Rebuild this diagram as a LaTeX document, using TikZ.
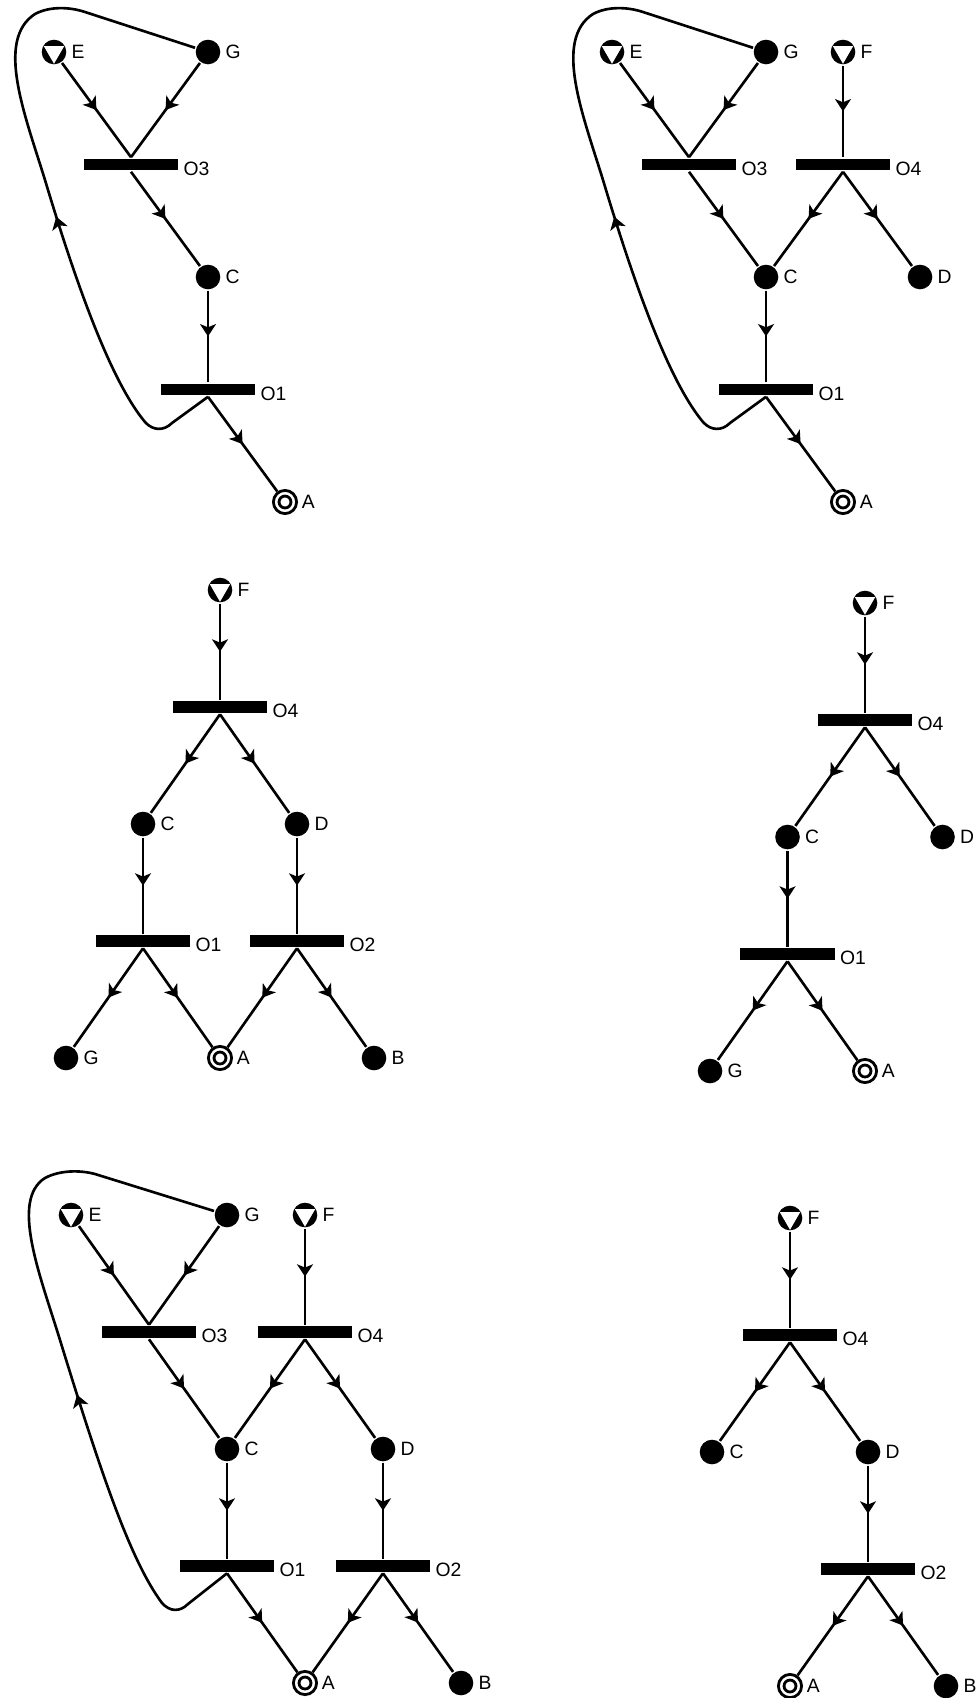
\documentclass[tikz,border=0pt]{standalone}
\usepackage{fontspec}
\setmainfont{Liberation Sans}
\usetikzlibrary{arrows.meta,decorations.markings}

\tikzset{
  place/.style={circle,fill=black,inner sep=0pt,minimum size=14pt},
  source/.style={place,path picture={
      \fill[white] ([shift={(150:6.7pt)}]path picture bounding box.center)
        -- ([shift={(30:6.7pt)}]path picture bounding box.center)
        -- ([shift={(-90:6.7pt)}]path picture bounding box.center) -- cycle;}},
  sink/.style={circle,draw,line width=1.6pt,inner sep=0pt,minimum size=13.2pt,
    path picture={\draw[line width=1.6pt] (path picture bounding box.center) circle (3.4pt);}},
  bar/.style={rectangle,fill=black,inner sep=0pt,minimum width=53.9pt,minimum height=6.8pt},
  every label/.style={inner sep=1.5pt,font=\fontsize{11}{13}\selectfont},
  flow/.style={postaction={decorate},decoration={markings,
      mark=at position #1 with {\arrow{Stealth[length=7pt,width=9pt,inset=1.8pt]}}}},
  flow/.default=0.5
}

\begin{document}
\begin{tikzpicture}[x=0.02cm,y=-0.02cm,line width=1.5pt]
  \useasboundingbox (0,0) rectangle (975,1698);

  % net 1
  \node[source,label=east:E] (p1E) at (54,52) {};
  \node[place,label=east:G] (p1G) at (208,52) {};
  \node[bar,label={[yshift=-2.3pt]east:O3}] (p1O3) at (131,164.5) {};
  \node[place,label=east:C] (p1C) at (208,277) {};
  \node[bar,label={[yshift=-2.3pt]east:O1}] (p1O1) at (208,389.5) {};
  \node[sink,label=east:A] (p1A) at (285,502) {};

  \draw[flow] (p1E) -- (p1O3.north);
  \draw[flow] (p1G) -- (p1O3.north);
  \draw[flow] (p1O3.south) -- (p1C);
  \draw[flow] (p1C) -- (p1O1.north);
  \draw[flow] (p1O1.south) -- (p1A);
  \draw[flow=0.44] (p1O1.south) -- (172,423) .. controls (164,431) and (153,431) .. (145,422)
    .. controls (110,380) and (75,280) .. (45,180) .. controls (25,115) and (-5,40) .. (35,14)
    .. controls (50,6) and (70,7) .. (85,12) -- (p1G);

  % net 2
  \node[source,label=east:E] (p2E) at (612,52) {};
  \node[place,label=east:G] (p2G) at (766,52) {};
  \node[source,label=east:F] (p2F) at (843,52) {};
  \node[bar,label={[yshift=-2.3pt]east:O3}] (p2O3) at (689,164.5) {};
  \node[bar,label={[yshift=-2.3pt]east:O4}] (p2O4) at (843,164.5) {};
  \node[place,label=east:C] (p2C) at (766,277) {};
  \node[place,label=east:D] (p2D) at (920,277) {};
  \node[bar,label={[yshift=-2.3pt]east:O1}] (p2O1) at (766,389.5) {};
  \node[sink,label=east:A] (p2A) at (843,502) {};

  \draw[flow] (p2E) -- (p2O3.north);
  \draw[flow] (p2G) -- (p2O3.north);
  \draw[flow] (p2F) -- (p2O4.north);
  \draw[flow] (p2O3.south) -- (p2C);
  \draw[flow] (p2O4.south) -- (p2C);
  \draw[flow] (p2O4.south) -- (p2D);
  \draw[flow] (p2C) -- (p2O1.north);
  \draw[flow] (p2O1.south) -- (p2A);
  \draw[flow=0.44] (p2O1.south) -- (730,423) .. controls (722,431) and (711,431) .. (703,422)
    .. controls (668,380) and (633,280) .. (603,180) .. controls (583,115) and (553,40) .. (593,14)
    .. controls (608,6) and (628,7) .. (643,12) -- (p2G);

  % net 3
  \node[source,label=east:F] (p3F) at (220,590) {};
  \node[bar,label={[yshift=-2.3pt]east:O4}] (p3O4) at (220,707) {};
  \node[place,label=east:C] (p3C) at (143,824) {};
  \node[place,label=east:D] (p3D) at (297,824) {};
  \node[bar,label={[yshift=-2.3pt]east:O1}] (p3O1) at (143,941) {};
  \node[bar,label={[yshift=-2.3pt]east:O2}] (p3O2) at (297,941) {};
  \node[place,label=east:G] (p3G) at (66,1058) {};
  \node[sink,label=east:A] (p3A) at (220,1058) {};
  \node[place,label=east:B] (p3B) at (374,1058) {};

  \draw[flow] (p3F) -- (p3O4.north);
  \draw[flow] (p3O4.south) -- (p3C);
  \draw[flow] (p3O4.south) -- (p3D);
  \draw[flow] (p3C) -- (p3O1.north);
  \draw[flow] (p3D) -- (p3O2.north);
  \draw[flow] (p3O1.south) -- (p3G);
  \draw[flow] (p3O1.south) -- (p3A);
  \draw[flow] (p3O2.south) -- (p3A);
  \draw[flow] (p3O2.south) -- (p3B);

  % net 4
  \node[source,label=east:F] (p4F) at (865,603) {};
  \node[bar,label={[yshift=-2.3pt]east:O4}] (p4O4) at (865,720) {};
  \node[place,label=east:C] (p4C) at (787.5,837) {};
  \node[place,label=east:D] (p4D) at (942.5,837) {};
  \node[bar,label={[yshift=-2.3pt]east:O1}] (p4O1) at (787.5,954) {};
  \node[place,label=east:G] (p4G) at (710,1071) {};
  \node[sink,label=east:A] (p4A) at (865,1071) {};

  \draw[flow] (p4F) -- (p4O4.north);
  \draw[flow] (p4O4.south) -- (p4C);
  \draw[flow] (p4O4.south) -- (p4D);
  \draw[flow] (p4C) -- (p4O1.north);
  \draw[flow] (p4O1.south) -- (p4G);
  \draw[flow] (p4O1.south) -- (p4A);

  % net 5
  \node[source,label=east:E] (p5E) at (71,1215) {};
  \node[place,label=east:G] (p5G) at (227,1215) {};
  \node[source,label=east:F] (p5F) at (305,1215) {};
  \node[bar,label={[yshift=-2.3pt]east:O3}] (p5O3) at (149,1332) {};
  \node[bar,label={[yshift=-2.3pt]east:O4}] (p5O4) at (305,1332) {};
  \node[place,label=east:C] (p5C) at (227,1449) {};
  \node[place,label=east:D] (p5D) at (383,1449) {};
  \node[bar,label={[yshift=-2.3pt]east:O1}] (p5O1) at (227,1566) {};
  \node[bar,label={[yshift=-2.3pt]east:O2}] (p5O2) at (383,1566) {};
  \node[sink,label=east:A] (p5A) at (305,1683) {};
  \node[place,label=east:B] (p5B) at (461,1683) {};

  \draw[flow] (p5E) -- (p5O3.north);
  \draw[flow] (p5G) -- (p5O3.north);
  \draw[flow] (p5F) -- (p5O4.north);
  \draw[flow] (p5O3.south) -- (p5C);
  \draw[flow] (p5O4.south) -- (p5C);
  \draw[flow] (p5O4.south) -- (p5D);
  \draw[flow] (p5C) -- (p5O1.north);
  \draw[flow] (p5D) -- (p5O2.north);
  \draw[flow] (p5O1.south) -- (p5A);
  \draw[flow] (p5O2.south) -- (p5A);
  \draw[flow] (p5O2.south) -- (p5B);
  \draw[flow=0.43] (p5O1.south) -- (188,1604) .. controls (180,1612) and (170,1612) .. (162,1603)
    .. controls (130,1560) and (100,1470) .. (60,1340) .. controls (40,1275) and (10,1200) .. (45,1178)
    .. controls (60,1170) and (80,1170) .. (95,1174) -- (p5G);

  % net 6
  \node[source,label=east:F] (p6F) at (790,1218) {};
  \node[bar,label={[yshift=-2.3pt]east:O4}] (p6O4) at (790,1335) {};
  \node[place,label=east:C] (p6C) at (712,1452) {};
  \node[place,label=east:D] (p6D) at (868,1452) {};
  \node[bar,label={[yshift=-2.3pt]east:O2}] (p6O2) at (868,1569) {};
  \node[sink,label=east:A] (p6A) at (790,1686) {};
  \node[place,label=east:B] (p6B) at (946,1686) {};

  \draw[flow] (p6F) -- (p6O4.north);
  \draw[flow] (p6O4.south) -- (p6C);
  \draw[flow] (p6O4.south) -- (p6D);
  \draw[flow] (p6D) -- (p6O2.north);
  \draw[flow] (p6O2.south) -- (p6A);
  \draw[flow] (p6O2.south) -- (p6B);

\end{tikzpicture}
\end{document}
